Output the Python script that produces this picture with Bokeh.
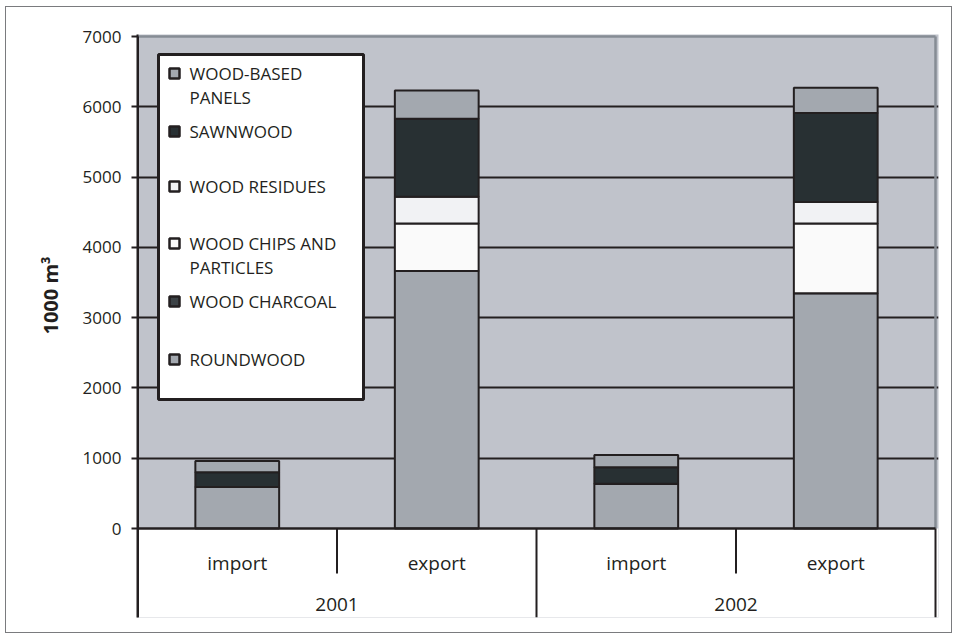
import numpy as np
from bokeh.plotting import figure
from bokeh.models import Range1d, FixedTicker, InlineStyleSheet
from bokeh.core.properties import value
from bokeh.embed import file_html
from bokeh.resources import INLINE

# ---- data (1000 m3) ----
years = ["2001", "2001", "2002", "2002"]
flows = ["import", "export", "import", "export"]
roundwood = [589, 3664, 637, 3347]
wood_charcoal = [0, 0, 0, 0]
wood_chips = [0, 675, 0, 992]
wood_residues = [0, 380, 0, 305]
sawnwood = [210, 1112, 233, 1269]
wood_panels = [161, 399, 175, 357]
y_ticks = [0, 1000, 2000, 3000, 4000, 5000, 6000, 7000]
y_title = "1000 m³"

series = ["roundwood", "wood_charcoal", "wood_chips", "wood_residues", "sawnwood", "wood_panels"]
legend_names = [
    ["WOOD-BASED", "PANELS"],
    ["SAWNWOOD"],
    ["WOOD RESIDUES"],
    ["WOOD CHIPS AND", "PARTICLES"],
    ["WOOD CHARCOAL"],
    ["ROUNDWOOD"],
]

# ---- styling ----
FONT = "Open Sans"
INK = "#231F20"
PLOT_BG = "#C0C3CB"
EDGE_GREY = "#868C94"
colors = {
    "roundwood": "#A3A8AF",
    "wood_charcoal": "#3C4246",
    "wood_chips": "#FAFAFA",
    "wood_residues": "#F1F2F4",
    "sawnwood": "#283033",
    "wood_panels": "#A3A8AF",
}

# ---- pixel layout of the frame ----
W, H = 956, 638
FRAME_L, FRAME_R, FRAME_T, FRAME_B = 137, 938, 34, 617
Y0_PX, YTOP_PX = 528, 36           # pixel rows of 0 and of the top tick
X0_PX, XN_PX = 137, 935            # pixel columns of the first and last category edges
y_max = y_ticks[-1]
n = len(flows)
sy = (Y0_PX - YTOP_PX) / y_max
sx = (XN_PX - X0_PX) / n


def py(px):
    """pixel row -> data y"""
    return (Y0_PX - px) / sy


def px_x(px):
    """pixel column -> data x"""
    return (px - X0_PX) / sx


p = figure(
    width=W, height=H,
    x_range=Range1d(0, px_x(FRAME_R)),
    y_range=Range1d(py(FRAME_B), py(FRAME_T)),
    output_backend="svg", toolbar_location=None,
    min_border_left=FRAME_L, min_border_right=W - FRAME_R,
    min_border_top=FRAME_T, min_border_bottom=H - FRAME_B,
    title=y_title, title_location="left",
)
p.background_fill_color = PLOT_BG
p.border_fill_color = "white"
p.outline_line_color = None
p.xaxis.visible = False
p.xgrid.visible = False

# value-axis title, drawn as the plot's left-hand title
p.title.text_font = FONT
p.title.text_font_size = "20px"
p.title.text_font_style = "bold"
p.title.text_color = INK
p.title.align = "left"
p.title.offset = FRAME_B - 334
p.title.standoff = 32

# thin frame drawn around the whole figure
p.stylesheets = [InlineStyleSheet(css="""
:host { position: relative; }
:host::after {
  content: ""; position: absolute; z-index: 10; pointer-events: none;
  left: 5px; top: 6px; right: 4px; bottom: 5px;
  border: 1.5px solid #7A7B7E;
}
""")]

p.ygrid.ticker = FixedTicker(ticks=y_ticks[1:-1])
p.ygrid.grid_line_color = INK
p.ygrid.grid_line_width = 2

yax = p.yaxis[0]
yax.ticker = FixedTicker(ticks=y_ticks)
yax.axis_line_color = INK
yax.axis_line_width = 2
yax.major_tick_line_color = INK
yax.major_tick_line_width = 2
yax.major_tick_out = 6
yax.major_tick_in = 0
yax.minor_tick_line_color = None
yax.major_label_standoff = 10
yax.major_label_text_font = FONT
yax.major_label_text_font_size = "17px"
yax.major_label_text_color = INK

# white band below zero for the category labels
p.quad(left=[0], right=[px_x(FRAME_R)], bottom=[py(FRAME_B)], top=[0],
       fill_color="white", line_color=None)

# grey edges of the plotting area
p.segment(x0=[0], y0=[y_max], x1=[n], y1=[y_max], line_color=EDGE_GREY, line_width=2.5)
p.segment(x0=[n], y0=[0], x1=[n], y1=[y_max], line_color=EDGE_GREY, line_width=2.5)

# stacked bars
x = np.arange(n) + 0.5
data = dict(x=x, roundwood=roundwood, wood_charcoal=wood_charcoal, wood_chips=wood_chips,
            wood_residues=wood_residues, sawnwood=sawnwood, wood_panels=wood_panels)
p.vbar_stack(series, x="x", width=0.42, source=data,
             color=[colors[s] for s in series], line_color=INK, line_width=2)

# zero line and value axis line
p.segment(x0=[0], y0=[0], x1=[n], y1=[0], line_color=INK, line_width=2.5)
p.segment(x0=[0], y0=[py(FRAME_B)], x1=[0], y1=[y_max], line_color=INK, line_width=3)

# category separators below the axis
inner = [i for i in range(1, n + 1) if i % 2 == 1]
outer = [i for i in range(1, n + 1) if i % 2 == 0]
p.segment(x0=inner, y0=[0] * len(inner), x1=inner, y1=[py(573)] * len(inner),
          line_color=INK, line_width=2)
p.segment(x0=outer, y0=[0] * len(outer), x1=outer, y1=[py(FRAME_B)] * len(outer),
          line_color=INK, line_width=2)

# category and year labels
p.text(x=x, y=[py(562)] * n, text=flows, text_font=value(FONT), text_font_size="19px",
       text_color=INK, text_align="center", text_baseline="middle")
year_names = list(dict.fromkeys(years))
year_x = [np.mean([xi for xi, yr in zip(x, years) if yr == y]) for y in year_names]
p.text(x=year_x, y=[py(604)] * len(year_names), text=year_names, text_font=value(FONT),
       text_font_size="19px", text_color=INK, text_align="center", text_baseline="middle")

# legend box
p.quad(left=[px_x(158)], right=[px_x(363)], top=[py(54)], bottom=[py(399)],
       fill_color="white", line_color=INK, line_width=3)
legend_series = list(reversed(series))
row_px = [73, 131, 186, 243, 301, 359]
line_gap = 23.5
mk_y = [py(r) for r in row_px]
p.scatter(x=[px_x(174)] * len(row_px), y=mk_y, marker="square", size=10,
          fill_color=[colors[s] for s in legend_series], line_color=INK, line_width=2.5)
tx, ty, tt = [], [], []
for r, lines in zip(row_px, legend_names):
    for k, t in enumerate(lines):
        tx.append(px_x(189))
        ty.append(py(r + k * line_gap))
        tt.append(t)
p.text(x=tx, y=ty, text=tt, text_font=value(FONT), text_font_size="17px",
       text_color=INK, text_align="left", text_baseline="middle")

open("out.html", "w").write(file_html(p, INLINE))
